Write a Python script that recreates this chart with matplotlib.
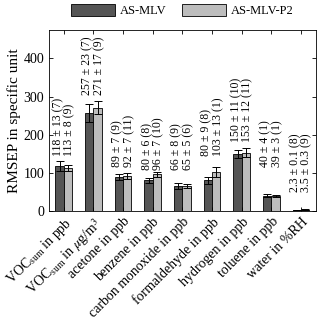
import matplotlib
matplotlib.use('Agg')
import matplotlib.pyplot as plt
import numpy as np

# data
categories = [r'VOC$_{\rm sum}$ in ppb', r'VOC$_{\rm sum}$ in $\mu$g/m$^3$', 'acetone in ppb',
              'benzene in ppb', 'carbon monoxide in ppb', 'formaldehyde in ppb',
              'hydrogen in ppb', 'toluene in ppb', 'water in %RH']
mlv = [118, 257, 89, 80, 66, 80, 150, 40, 2.3]
mlv_err = [13, 23, 7, 6, 8, 9, 11, 4, 0.1]
mlv_n = [7, 7, 9, 8, 9, 8, 10, 1, 8]
p2 = [113, 271, 92, 96, 65, 103, 153, 39, 3.5]
p2_err = [8, 17, 7, 7, 5, 13, 12, 3, 0.3]
p2_n = [9, 9, 11, 10, 6, 1, 11, 1, 9]
mlv_txt = ['118 ± 13', '257 ± 23', '89 ± 7', '80 ± 6', '66 ± 8', '80 ± 9', '150 ± 11', '40 ± 4', '2.3 ± 0.1']
p2_txt = ['113 ± 8', '271 ± 17', '92 ± 7', '96 ± 7', '65 ± 5', '103 ± 13', '153 ± 12', '39 ± 3', '3.5 ± 0.3']
# where the annotation starts (data units)
label_y = [145, 305, 116, 106, 107, 145, 180, 116, 50]

plt.rcParams['font.family'] = ['Liberation Serif', 'DejaVu Serif']
plt.rcParams['mathtext.fontset'] = 'stix'

fig = plt.figure(figsize=(3.2, 3.28), dpi=100)
ax = fig.add_axes([0.153, 0.357, 0.834, 0.552])

x = np.arange(1, len(categories) + 1)
w = 0.28
ax.bar(x - w/2, mlv, w, yerr=mlv_err, color='#555555', edgecolor='black', linewidth=0.6,
       error_kw=dict(ecolor='black', elinewidth=0.7, capsize=3, capthick=0.7), label='AS-MLV')
ax.bar(x + w/2, p2, w, yerr=p2_err, color='#bdbdbd', edgecolor='black', linewidth=0.6,
       error_kw=dict(ecolor='black', elinewidth=0.7, capsize=3, capthick=0.7), label='AS-MLV-P2')

for i in range(len(x)):
    s = '%s (%d)\n%s (%d)' % (mlv_txt[i], mlv_n[i], p2_txt[i], p2_n[i])
    ax.text(x[i], label_y[i], s, rotation=90, ha='center', va='bottom',
            multialignment='left', fontsize=8.5, linespacing=0.95)

ax.set_xlim(0.5, 9.5)
ax.set_ylim(0, 475)
ax.set_yticks([0, 100, 200, 300, 400])
ax.set_xticks(x)
ax.set_xticklabels(categories, rotation=45, ha='right', rotation_mode='anchor', fontsize=10)
ax.tick_params(direction='in', top=True, right=True, length=3, width=0.6, labelsize=10)
ax.tick_params(axis='x', pad=3)
ax.set_ylabel('RMSEP in specific unit', fontsize=11, labelpad=2)
for sp in ax.spines.values():
    sp.set_linewidth(0.6)

fig.legend(loc='center', bbox_to_anchor=(0.57, 0.968), ncol=2, frameon=False, fontsize=9,
           handlelength=3.5, handleheight=1.1, columnspacing=1.2, handletextpad=0.4)

fig.savefig('out.png', dpi=100)
